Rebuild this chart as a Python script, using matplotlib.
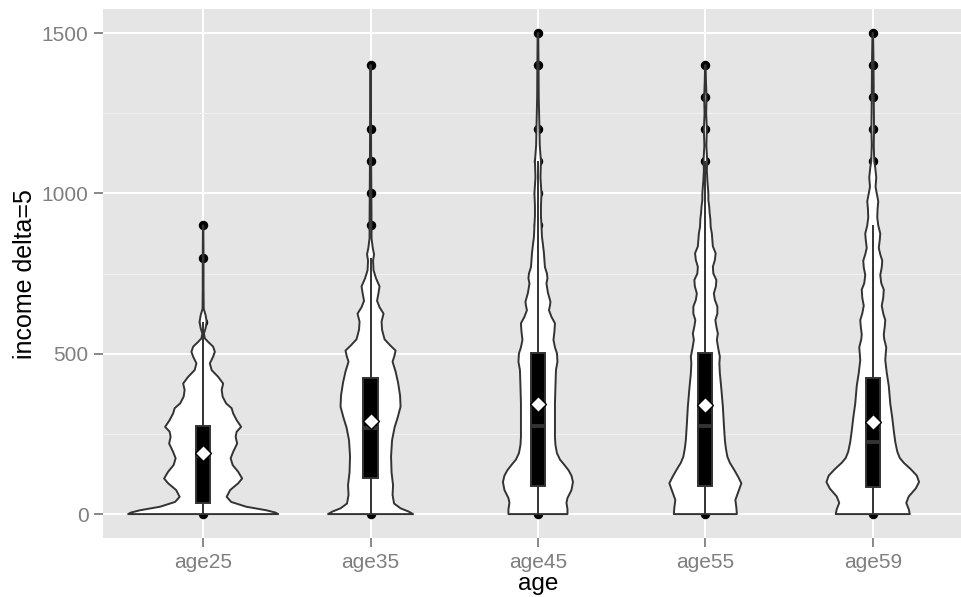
import numpy as np
import matplotlib
matplotlib.use("Agg")
import matplotlib.pyplot as plt
from matplotlib.patches import Polygon, Rectangle

plt.rcParams['font.family'] = ['Liberation Sans', 'DejaVu Sans']

categories = ["age25", "age35", "age45", "age55", "age59"]

# Violin outlines: income value and half width (pixels at the original scale)
v25_y = [0, 5, 12, 23, 38, 54, 75, 96, 111, 132, 153, 174, 194, 220, 241, 257, 272, 293, 314, 330, 345, 366, 387, 407, 428, 449, 470, 491, 506, 522, 537, 548, 563, 580, 600, 620, 640, 700, 800, 900]
v25_w = [75, 72, 63, 43, 28, 23.5, 27, 35, 39, 35, 29.5, 27.5, 30, 34, 32.5, 33.5, 38, 33.5, 30, 28.5, 23, 19.5, 18.5, 20, 15, 8.5, 6.7, 10, 11.7, 10, 5, 1.7, 0.8, 2.5, 3.5, 2.5, 0.6, 0.4, 0.4, 0.2]

v35_y = [0, 8, 18, 33, 60, 90, 130, 180, 230, 270, 300, 335, 370, 410, 445, 475, 495, 510, 525, 545, 575, 600, 625, 645, 665, 690, 710, 735, 760, 790, 810, 830, 860, 900, 1000, 1100, 1200, 1300, 1400]
v35_w = [42.5, 38, 30, 23.5, 22, 22.5, 21, 20.5, 21.5, 24, 27, 30, 29.5, 27.5, 25, 22, 24, 25, 20, 14, 11.5, 11, 13, 9, 6.5, 8, 9, 5.5, 3, 2.5, 3.5, 2.2, 1, 1, 0.8, 0.6, 0.5, 0.4, 0.2]

v45_y = [0, 15, 35, 50, 75, 100, 120, 137, 155, 170, 190, 215, 240, 300, 345, 400, 449, 475, 501, 520, 543, 570, 595, 615, 636, 650, 662, 690, 719, 735, 750, 770, 790, 813, 840, 865, 900, 930, 960, 1000, 1050, 1100, 1150, 1200, 1300, 1400, 1500]
v45_w = [29.5, 29.5, 28.5, 29.5, 33.5, 35, 33.5, 30.5, 26, 22, 19, 17.5, 17, 17, 17, 17.5, 18, 19.5, 19, 17, 15.5, 16.5, 17, 13.5, 11, 12, 12.5, 10, 8.5, 9.5, 9, 7, 6.5, 6, 5, 4, 3.5, 3, 3, 3.5, 2.5, 3, 1.8, 1.5, 0.8, 0.6, 0.3]

v55_y = [0, 20, 44, 70, 96, 115, 137, 160, 179, 205, 231, 280, 335, 390, 439, 470, 491, 515, 543, 563, 585, 605, 625, 647, 668, 688, 710, 730, 750, 771, 792, 813, 835, 854, 875, 896, 920, 938, 960, 979, 1000, 1041, 1070, 1104, 1150, 1200, 1250, 1300, 1350, 1400]
v55_w = [31.5, 31, 30, 33, 36, 33, 29, 24.5, 22, 20.5, 19.5, 18.5, 17.5, 16, 14.5, 14, 14.5, 13, 11.5, 12.5, 11, 10, 12, 12, 9.5, 8.5, 10.5, 11, 8, 7.5, 9.5, 10.3, 7.5, 7, 6.5, 5.3, 5, 4.3, 3.8, 3, 3, 2, 1.5, 1.8, 1, 1.5, 0.8, 1.2, 0.6, 0.3]

v59_y = [0, 15, 35, 55, 80, 100, 120, 140, 160, 175, 195, 225, 260, 300, 345, 400, 440, 480, 501, 520, 545, 560, 585, 605, 625, 650, 675, 700, 720, 745, 770, 790, 810, 830, 855, 875, 900, 925, 950, 975, 1000, 1020, 1050, 1080, 1100, 1150, 1200, 1300, 1400, 1500]
v59_w = [37, 36, 33.5, 36, 43, 46.3, 44, 38, 31, 27, 24.5, 22.5, 21, 19.5, 17.5, 16, 14, 12.5, 13, 13.5, 11.5, 11, 12, 12.5, 10.5, 9, 10.5, 11, 8.5, 7.5, 9, 9.5, 7.5, 6, 7, 7.5, 5.5, 4.5, 4.8, 5.5, 4, 2.8, 3.5, 2.5, 1.5, 1, 1.3, 1, 0.8, 0.3]

violin_y = [v25_y, v35_y, v45_y, v55_y, v59_y]
violin_w = [v25_w, v35_w, v45_w, v55_w, v59_w]

# Box statistics
q1 = [35, 114, 87, 87, 85]
median = [180, 270, 275, 275, 226]
q3 = [275, 423, 501, 501, 425]
whisker_lo = [0, 0, 0, 0, 0]
whisker_hi = [600, 800, 1100, 1100, 900]
means = [189, 291, 343, 339, 286]

# Individual points visible in the picture
points = [
    [0, 600, 800, 900],
    [0, 900, 1000, 1100, 1200, 1400],
    [0, 900, 1000, 1100, 1200, 1400, 1500],
    [0, 1100, 1200, 1300, 1400],
    [0, 1100, 1200, 1300, 1400, 1500],
]

y_ticks = [0, 500, 1000, 1500]
y_minor = [250, 750, 1250]

# widest violin (age25) has half width 0.45 category units (ggplot scale='area')
width_scale = 0.45 / 75.3

fig = plt.figure(figsize=(9.61, 5.97), dpi=100)
ax = fig.add_axes([102.7 / 961, (597 - 538.3) / 597, 870.5 / 961, 529.3 / 597])
ax.set_facecolor('#E5E5E5')
for s in ax.spines.values():
    s.set_visible(False)

pos = np.arange(1, len(categories) + 1)
ax.set_xlim(0.4, 5.6)
ax.set_ylim(-75.5, 1575)
ax.set_xticks(pos)
ax.set_xticklabels(categories)
ax.set_yticks(y_ticks)
ax.set_yticks(y_minor, minor=True)
ax.grid(which='major', color='white', lw=1.4)
ax.grid(which='minor', axis='y', color='#F2F2F2', lw=0.7)
ax.set_axisbelow(True)
ax.tick_params(which='major', length=6.3, width=1.3, color='#7F7F7F',
               labelcolor='#7F7F7F', labelsize=15, pad=4)
ax.tick_params(which='minor', length=0)

edge = '#333333'
bw = 0.085
for i, x in enumerate(pos):
    # points (underneath the violin)
    ax.plot([x] * len(points[i]), points[i], 'o', color='black', ms=5.8, zorder=2)
    ys = np.array(violin_y[i], dtype=float)
    ws = np.array(violin_w[i], dtype=float) * width_scale
    px = np.concatenate([x + ws, (x - ws)[::-1]])
    py = np.concatenate([ys, ys[::-1]])
    ax.add_patch(Polygon(np.column_stack([px, py]), closed=True, facecolor='white',
                         edgecolor=edge, lw=1.4, joinstyle='round', zorder=3))
    # whiskers
    ax.plot([x, x], [q3[i], whisker_hi[i]], color=edge, lw=1.4, zorder=4, solid_capstyle='butt')
    ax.plot([x, x], [whisker_lo[i], q1[i]], color=edge, lw=1.4, zorder=4, solid_capstyle='butt')
    # box
    ax.add_patch(Rectangle((x - bw / 2, q1[i]), bw, q3[i] - q1[i], facecolor='black',
                           edgecolor=edge, lw=1.4, zorder=5))
    ax.plot([x - bw / 2, x + bw / 2], [median[i], median[i]], color=edge, lw=2.8,
            zorder=6, solid_capstyle='butt')
    ax.plot([x], [means[i]], 'D', ms=8.5, markerfacecolor='white',
            markeredgecolor='black', markeredgewidth=1.0, zorder=7)

ax.set_xlabel('age', fontsize=17.5, labelpad=1)
ax.set_ylabel('income delta=5', fontsize=18, labelpad=3)

fig.savefig('out.png', dpi=100)
